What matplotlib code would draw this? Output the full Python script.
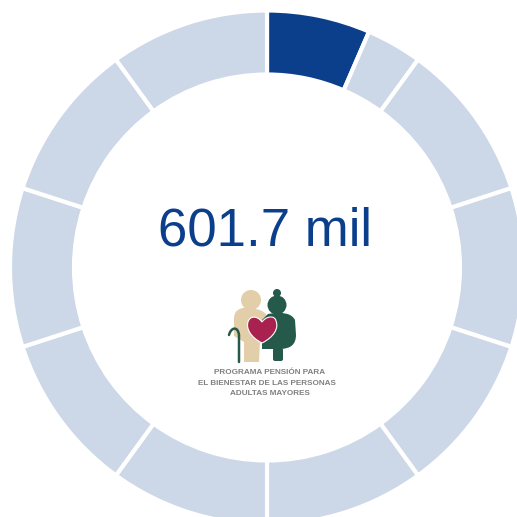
import matplotlib
matplotlib.use("Agg")
import matplotlib.pyplot as plt
from matplotlib.patches import Circle, FancyBboxPatch, PathPatch
from matplotlib.path import Path

# Ring segments (share of the ring, clockwise from 12 o'clock)
segments = [6.5, 3.5, 10, 10, 10, 10, 10, 10, 10, 10, 10]
segment_colors = ["#0B3F8C"] + ["#CCD7E7"] * 10
center_label = "601.7 mil"
logo_lines = ["PROGRAMA PENSIÓN PARA", "EL BIENESTAR DE LAS PERSONAS", "ADULTAS MAYORES"]

W = H = 517
fig = plt.figure(figsize=(W / 100, H / 100), dpi=100, facecolor="white")

R = 257
cx, cy = 267, 267.5

ax = fig.add_axes([(cx - R) / W, 1 - (cy + R) / H, 2 * R / W, 2 * R / H])
ax.set_clip_on(False)
wedges, _ = ax.pie(segments, colors=segment_colors, startangle=90, counterclock=False,
                   radius=1, wedgeprops=dict(width=64 / 257, edgecolor="white", linewidth=3.0))
ax.set_xlim(-1, 1)
ax.set_ylim(-1, 1)

ov = fig.add_axes([0, 0, 1, 1])
ov.set_xlim(0, W)
ov.set_ylim(H, 0)
ov.axis("off")
ov.patch.set_alpha(0)

ov.text(265.5, 246, center_label, ha="center", va="baseline", fontsize=38,
        family="Liberation Sans", color="#0B3F8C")

beige = "#E2CFA9"
green = "#25594A"
heart = "#A9224F"

# man
ov.add_patch(Circle((251, 300), 10, color=beige, lw=0))
body = Path([(234, 318), (234, 308), (248, 307), (256, 309), (266, 311), (268, 318), (262, 330),
             (260, 340), (259, 362), (244, 362), (244, 342), (234, 336), (234, 318)],
            [Path.MOVETO, Path.CURVE3, Path.CURVE3, Path.LINETO, Path.CURVE3, Path.CURVE3, Path.LINETO,
             Path.LINETO, Path.LINETO, Path.LINETO, Path.LINETO, Path.LINETO, Path.CLOSEPOLY])
ov.add_patch(PathPatch(body, fc=beige, ec="none"))
# woman
ov.add_patch(Circle((277, 293), 4, color=green, lw=0))
ov.add_patch(Circle((277, 305), 9.5, color=green, lw=0))
wbody = Path([(268, 314), (290, 310), (295, 320), (296, 335), (296, 349), (280, 349), (262, 349), (262, 340),
              (262, 330), (262, 320), (268, 314)],
             [Path.MOVETO, Path.CURVE3, Path.CURVE3, Path.LINETO, Path.CURVE3, Path.CURVE3,
              Path.LINETO, Path.LINETO, Path.LINETO, Path.LINETO, Path.CLOSEPOLY])
ov.add_patch(PathPatch(wbody, fc=green, ec="none"))
ov.add_patch(FancyBboxPatch((274, 349), 8, 11, boxstyle="round,pad=1,rounding_size=2", fc=green, ec="none"))
# heart
verts = [(262, 343), (250, 337), (246, 328), (248, 322), (250, 315), (258, 316), (262, 322),
         (266, 316), (275, 315), (276, 321), (279, 328), (274, 337), (262, 343)]
codes = [Path.MOVETO] + [Path.CURVE4] * 12
ov.add_patch(PathPatch(Path(verts, codes), fc=heart, ec="white", lw=0.8))
# cane
cane = Path([(239, 362), (239, 335), (238, 326), (231, 327), (229, 335)],
            [Path.MOVETO, Path.LINETO, Path.CURVE4, Path.CURVE4, Path.CURVE4])
ov.add_patch(PathPatch(cane, fc="none", ec=green, lw=1.8, capstyle="round"))

for y, line, x in zip([373, 383.5, 393.5], logo_lines, [270, 267, 270]):
    ov.text(x, y, line, ha="center", va="center", fontsize=5.85, fontweight="bold",
            family="Liberation Sans", color="#808080")

fig.savefig("out.png", dpi=100, facecolor="white")
